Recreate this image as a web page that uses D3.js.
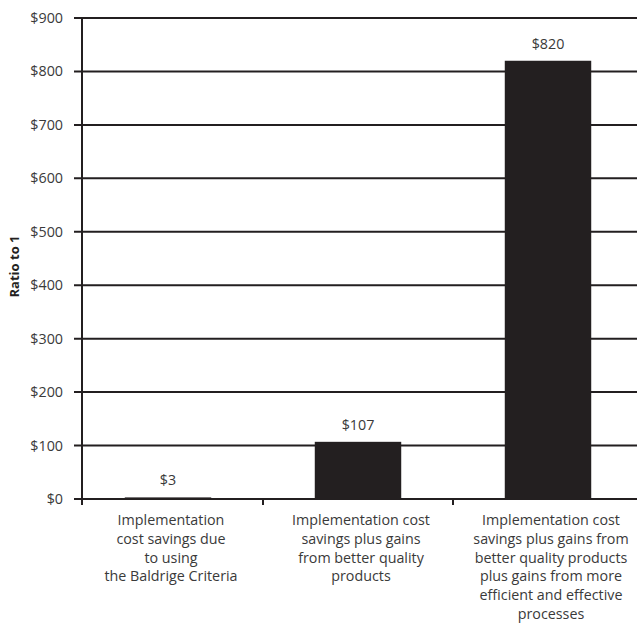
<!DOCTYPE html>
<html>
<head>
<meta charset="utf-8">
<script src="https://cdn.jsdelivr.net/npm/d3@7"></script>
<style>
  html, body { margin: 0; padding: 0; background: #fff; }
  svg { display: block; }
</style>
</head>
<body>
<svg id="chart" width="637" height="633"></svg>
<script>
const categories = [
  ["Implementation", "cost savings due", "to using", "the Baldrige Criteria"],
  ["Implementation cost", "savings  plus gains", "from better quality", "products"],
  ["Implementation cost", "savings plus gains from", "better quality products", "plus gains from more", "efficient and effective", "processes"]
];
const values = [3, 107, 820];
const valueLabels = ["$3", "$107", "$820"];
const yTicks = [0, 100, 200, 300, 400, 500, 600, 700, 800, 900];
const yTitle = "Ratio to 1";

(function () {
const svg = d3.select("#chart");
const mLeft = 82, mRight = 637, mTop = 18, mBottom = 499;
const ink = "#231f20";
const textCol = "#3a3a3a";
const font = "'Open Sans', 'Noto Sans', sans-serif";
const fs = 14.3;

const x = d3.scaleBand().domain(d3.range(values.length)).range([73, 643]).paddingInner(0.545).paddingOuter(0.2725);
const xStep = d3.scaleBand().domain(d3.range(values.length)).range([73, 643]).padding(0);
const y = d3.scaleLinear().domain([0, 900]).range([mBottom, mTop]);

// gridlines
svg.append("g").selectAll("line").data(yTicks).join("line")
  .attr("x1", mLeft - 8).attr("x2", mRight)
  .attr("y1", d => y(d)).attr("y2", d => y(d))
  .attr("stroke", ink).attr("stroke-width", 2);

// y tick labels
svg.append("g").selectAll("text").data(yTicks).join("text")
  .attr("x", 63).attr("y", d => y(d)).attr("dy", "0.35em")
  .attr("text-anchor", "end")
  .attr("font-family", font).attr("font-size", fs).attr("fill", textCol)
  .text(d => "$" + d);

// bars
svg.append("g").selectAll("rect").data(values).join("rect")
  .attr("x", (d, i) => x(i)).attr("width", x.bandwidth())
  .attr("y", d => y(d)).attr("height", d => y(0) - y(d))
  .attr("fill", ink);

// y axis line
svg.append("line").attr("x1", mLeft).attr("x2", mLeft).attr("y1", mTop - 1).attr("y2", mBottom + 6)
  .attr("stroke", ink).attr("stroke-width", 2);

// x ticks
const xTickPos = d3.range(values.length - 1).map(i => xStep(i) + xStep.bandwidth());
svg.append("g").selectAll("line").data(xTickPos).join("line")
  .attr("x1", d => d).attr("x2", d => d).attr("y1", mBottom).attr("y2", mBottom + 6)
  .attr("stroke", ink).attr("stroke-width", 2);

// value labels
svg.append("g").selectAll("text").data(values).join("text")
  .attr("x", (d, i) => x(i) + x.bandwidth() / 2).attr("y", d => y(d) - 12)
  .attr("text-anchor", "middle")
  .attr("font-family", font).attr("font-size", fs).attr("fill", textCol)
  .text((d, i) => valueLabels[i]);

// category labels
const cat = svg.append("g").selectAll("text").data(categories).join("text")
  .attr("text-anchor", "middle")
  .attr("font-family", font).attr("font-size", fs).attr("fill", textCol);
cat.each(function(lines, i) {
  d3.select(this).selectAll("tspan").data(lines).join("tspan")
    .attr("x", x(i) + x.bandwidth() / 2 + 3)
    .attr("y", (d, j) => 525 + j * 18.8)
    .text(d => d);
});

// y title
svg.append("text")
  .attr("transform", `translate(19, ${(mTop + mBottom) / 2 + 8}) rotate(-90)`)
  .attr("text-anchor", "middle")
  .attr("font-family", font).attr("font-size", 13).attr("font-weight", "bold").attr("fill", ink)
  .text(yTitle);
})();
</script>
</body>
</html>
